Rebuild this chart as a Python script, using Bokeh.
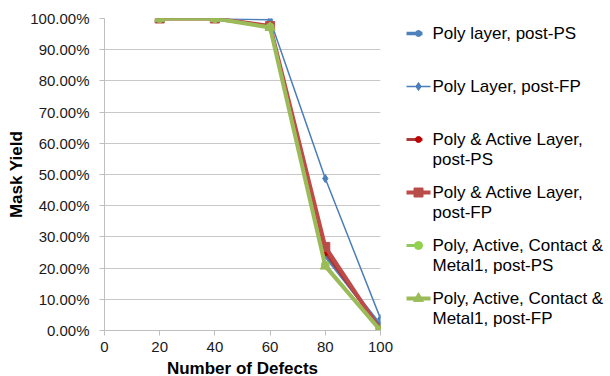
from bokeh.plotting import figure
from bokeh.models import Range1d, FixedTicker, NumeralTickFormatter
from bokeh.layouts import row, column
from bokeh.embed import file_html
from bokeh.resources import INLINE
from bokeh.core.properties import value

# ---- data ----
defects = [20, 40, 60, 80, 100]
poly_ps = [1.0, 1.0, 0.975, 0.24, 0.015]
poly_fp = [1.0, 1.0, 0.996, 0.487, 0.038]
pa_ps = [1.0, 1.0, 0.975, 0.25, 0.005]
pa_fp = [1.0, 1.0, 0.976, 0.268, 0.0]
pacm_ps = [1.0, 1.0, 0.972, 0.21, 0.0]
pacm_fp = [1.0, 1.0, 0.971, 0.206, 0.0]

series_labels = [
    ["Poly layer, post-PS"],
    ["Poly Layer, post-FP"],
    ["Poly & Active Layer,", "post-PS"],
    ["Poly & Active Layer,", "post-FP"],
    ["Poly, Active, Contact &", "Metal1, post-PS"],
    ["Poly, Active, Contact &", "Metal1, post-FP"],
]
x_ticks = [0, 20, 40, 60, 80, 100]
y_ticks = [0.0, 0.1, 0.2, 0.3, 0.4, 0.5, 0.6, 0.7, 0.8, 0.9, 1.0]
x_title = "Number of Defects"
y_title = "Mask Yield"

FONT = "Liberation Sans"

# style per series: (line color, line width, marker, marker color, marker size)
styles = [
    ("#4F81BD", 3.5, "circle", "#4F81BD", 6),
    ("#4A7EBB", 1.5, "diamond", "#4A7EBB", 8),
    ("#A83A38", 3.0, "circle", "#C00000", 6),
    ("#BE4B48", 4.0, "square", "#B84C49", 9),
    ("#92C95A", 3.0, "circle", "#92D050", 8),
    ("#9BBB59", 4.0, "triangle", "#9BBB59", 10),
]
series = [poly_ps, poly_fp, pa_ps, pa_fp, pacm_ps, pacm_fp]

MAIN_H = 359
p = figure(width=400, height=MAIN_H, x_range=Range1d(0, 100), y_range=Range1d(0, 1),
           output_backend="svg", toolbar_location=None,
           min_border_left=104, min_border_right=20, min_border_top=18,
           min_border_bottom=MAIN_H - 330)
p.outline_line_color = None
p.background_fill_color = "white"
p.border_fill_color = "white"
p.xgrid.grid_line_color = None
p.ygrid.grid_line_color = "#C8C8C8"
p.ygrid.grid_line_width = 1

p.xaxis.ticker = FixedTicker(ticks=x_ticks)
p.yaxis.ticker = FixedTicker(ticks=y_ticks)
p.yaxis.formatter = NumeralTickFormatter(format="0.00%")
for ax in (p.xaxis[0], p.yaxis[0]):
    ax.axis_line_color = "#BFBFBF"
    ax.major_tick_line_color = "#BFBFBF"
    ax.major_tick_out = 5
    ax.major_tick_in = 0
    ax.minor_tick_line_color = None
    ax.major_label_text_font = FONT
    ax.major_label_text_font_size = "15px"
    ax.major_label_text_color = "#1a1a1a"
    ax.axis_label_text_font = FONT
    ax.axis_label_text_font_size = "17px"
    ax.axis_label_text_font_style = "bold"
    ax.axis_label_text_color = "#000000"
p.yaxis.axis_label = y_title
p.xaxis.major_label_standoff = 6
p.yaxis.major_label_standoff = 10
p.yaxis.axis_label_standoff = 1

for ys, (lc, lw, mk, mc, ms) in zip(series, styles):
    p.line(defects, ys, line_color=lc, line_width=lw, line_join="round")
    p.scatter(defects, ys, marker=mk, size=ms, fill_color=mc, line_color=mc)

# ---- legend panel (frame aligned with main plot frame: rows 18..330) ----
lg = figure(width=210, height=MAIN_H, x_range=Range1d(400, 610), y_range=Range1d(330, 18),
            output_backend="svg", toolbar_location=None,
            min_border_left=0, min_border_right=0, min_border_top=18,
            min_border_bottom=MAIN_H - 330)
lg.axis.visible = False
lg.grid.grid_line_color = None
lg.outline_line_color = None

item_y = [33, 86, 139, 192, 245, 298]
line_end = [422, 430, 422, 430, 422, 430]
for i, ((lc, lw, mk, mc, ms), lines) in enumerate(zip(styles, series_labels)):
    y = item_y[i]
    lg.line([406, line_end[i]], [y, y], line_color=lc, line_width=lw)
    lg.scatter([418], [y], marker=mk, size=ms, fill_color=mc, line_color=mc)
    for j, t in enumerate(lines):
        lg.text([432], [y + 20 * j], text=[t], text_font=value(FONT), text_font_size="17px",
                text_baseline="middle", text_align="left", text_color="#000000")

# ---- x-axis title strip ----
TH = 376 - MAIN_H
tf = figure(width=400, height=TH, x_range=p.x_range, y_range=Range1d(TH, 0),
            output_backend="svg", toolbar_location=None,
            min_border_left=104, min_border_right=20, min_border_top=0, min_border_bottom=0)
tf.axis.visible = False
tf.grid.grid_line_color = None
tf.outline_line_color = None
tf.text([50], [TH / 2], text=[x_title], text_font=value(FONT), text_font_size="17px",
        text_font_style="bold", text_baseline="middle", text_align="center",
        text_color="#000000")

layout = column(row(p, lg), tf)
open("out.html", "w").write(file_html(layout, INLINE))
